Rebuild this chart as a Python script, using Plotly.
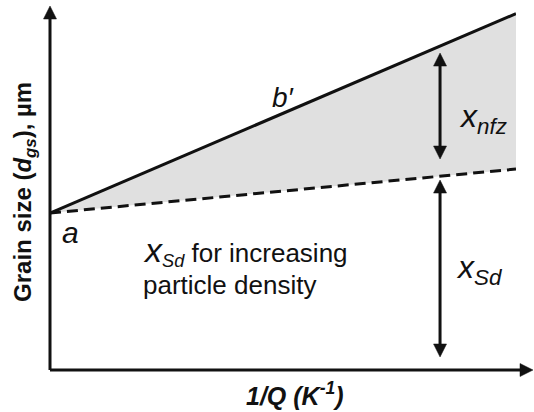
import plotly.graph_objects as go

# Schematic: grain size vs inverse heating rate
x_ends = [0.0, 1.0]
solid_y = [1.0, 2.27]     # a -> b'
dashed_y = [1.0, 1.28]    # x_Sd with increasing particle density
arrow_x = 0.837
nfz_span = [1.344, 2.019]  # x_nfz double arrow (bottom tip, top tip)
sd_span = [0.083, 1.21]    # x_Sd double arrow (bottom tip, top tip)
y_max = 2.357

FONT = "Liberation Sans, Arial, sans-serif"
INK = "#111111"
LW = 3

# plot-area size in px, used to size arrowheads in data units
W, H = 466, 370
PX_X = 1.0 / W             # one pixel in x data / paper units
PX_YD = y_max / H          # one pixel in y data units
PX_YP = 1.0 / H            # one pixel in y paper units

fig = go.Figure()
fig.add_trace(go.Scatter(x=x_ends, y=dashed_y, mode="lines",
                         line=dict(color=INK, width=LW, dash="11px,6px"),
                         hoverinfo="skip"))
fig.add_trace(go.Scatter(x=x_ends, y=solid_y, mode="lines", fill="tonexty",
                         fillcolor="#e0e0e0",
                         line=dict(color=INK, width=LW), hoverinfo="skip"))

shapes = []


def head(xt, yt, direction, ref, py, length=13, width=13):
    """Filled triangular arrowhead with its tip at (xt, yt)."""
    L, w = length, width / 2
    if direction == "up":
        pts = [(xt, yt), (xt - w * PX_X, yt - L * py), (xt + w * PX_X, yt - L * py)]
    elif direction == "down":
        pts = [(xt, yt), (xt - w * PX_X, yt + L * py), (xt + w * PX_X, yt + L * py)]
    else:  # right
        pts = [(xt, yt), (xt - L * PX_X, yt - w * py), (xt - L * PX_X, yt + w * py)]
    path = "M " + " L ".join(f"{x},{y}" for x, y in pts) + " Z"
    shapes.append(dict(type="path", path=path, xref=ref[0], yref=ref[1],
                       fillcolor=INK, line=dict(color=INK, width=0.5)))


def line(x0, y0, x1, y1, ref):
    shapes.append(dict(type="line", x0=x0, y0=y0, x1=x1, y1=y1,
                       xref=ref[0], yref=ref[1],
                       line=dict(color=INK, width=LW)))


# axes (paper coordinates, not clipped)
P = ("paper", "paper")
x_tip, y_tip = 483 * PX_X, 364 * PX_YP
line(0, 0, x_tip - 12 * PX_X, 0, P)
head(x_tip, 0, "right", P, PX_YP)
line(0, 0, 0, y_tip - 12 * PX_YP, P)
head(0, y_tip, "up", P, PX_YP)

# double-headed arrows
D = ("x", "y")
for lo, hi in (nfz_span, sd_span):
    line(arrow_x, lo + 12 * PX_YD, arrow_x, hi - 12 * PX_YD, D)
    head(arrow_x, hi, "up", D, PX_YD)
    head(arrow_x, lo, "down", D, PX_YD)

ann = []


def label(x, y, text, size, xanchor="center", ref=D, angle=0):
    ann.append(dict(xref=ref[0], yref=ref[1], x=x, y=y, text=text,
                    showarrow=False, xanchor=xanchor, yanchor="middle",
                    textangle=angle,
                    font=dict(family=FONT, size=size, color=INK)))


label(0.873, 1.60, "<i>x<sub>nfz</sub></i>", 32, "left")
label(0.866, 0.64, "<i>x<sub>Sd</sub></i>", 32, "left")
label(0.043, 0.873, "<i>a</i>", 30)
label(0.502, 1.739, "<i>b′</i>", 28)
label(0.195, 0.755,
      "<i><span style='font-size:34px'>x</span><sub>Sd</sub></i> for increasing",
      26, "left")
label(0.195, 0.54, "particle density", 26, "left")

# axis titles
label(0.525, -0.065, "<b><i>1/Q (K<sup>-1</sup>)</i></b>", 25, ref=P)
label(-0.056, 0.481, "<b>Grain size (<i>d<sub>gs</sub></i>), µm</b>", 24,
      ref=P, angle=-90)

fig.update_layout(
    width=534, height=412,
    margin=dict(l=50, r=18, t=0, b=42),
    paper_bgcolor="white", plot_bgcolor="white",
    showlegend=False,
    shapes=shapes,
    annotations=ann,
    xaxis=dict(range=[0, 1], showgrid=False, zeroline=False, visible=False),
    yaxis=dict(range=[0, y_max], showgrid=False, zeroline=False, visible=False),
)

fig.write_html("out.html")
